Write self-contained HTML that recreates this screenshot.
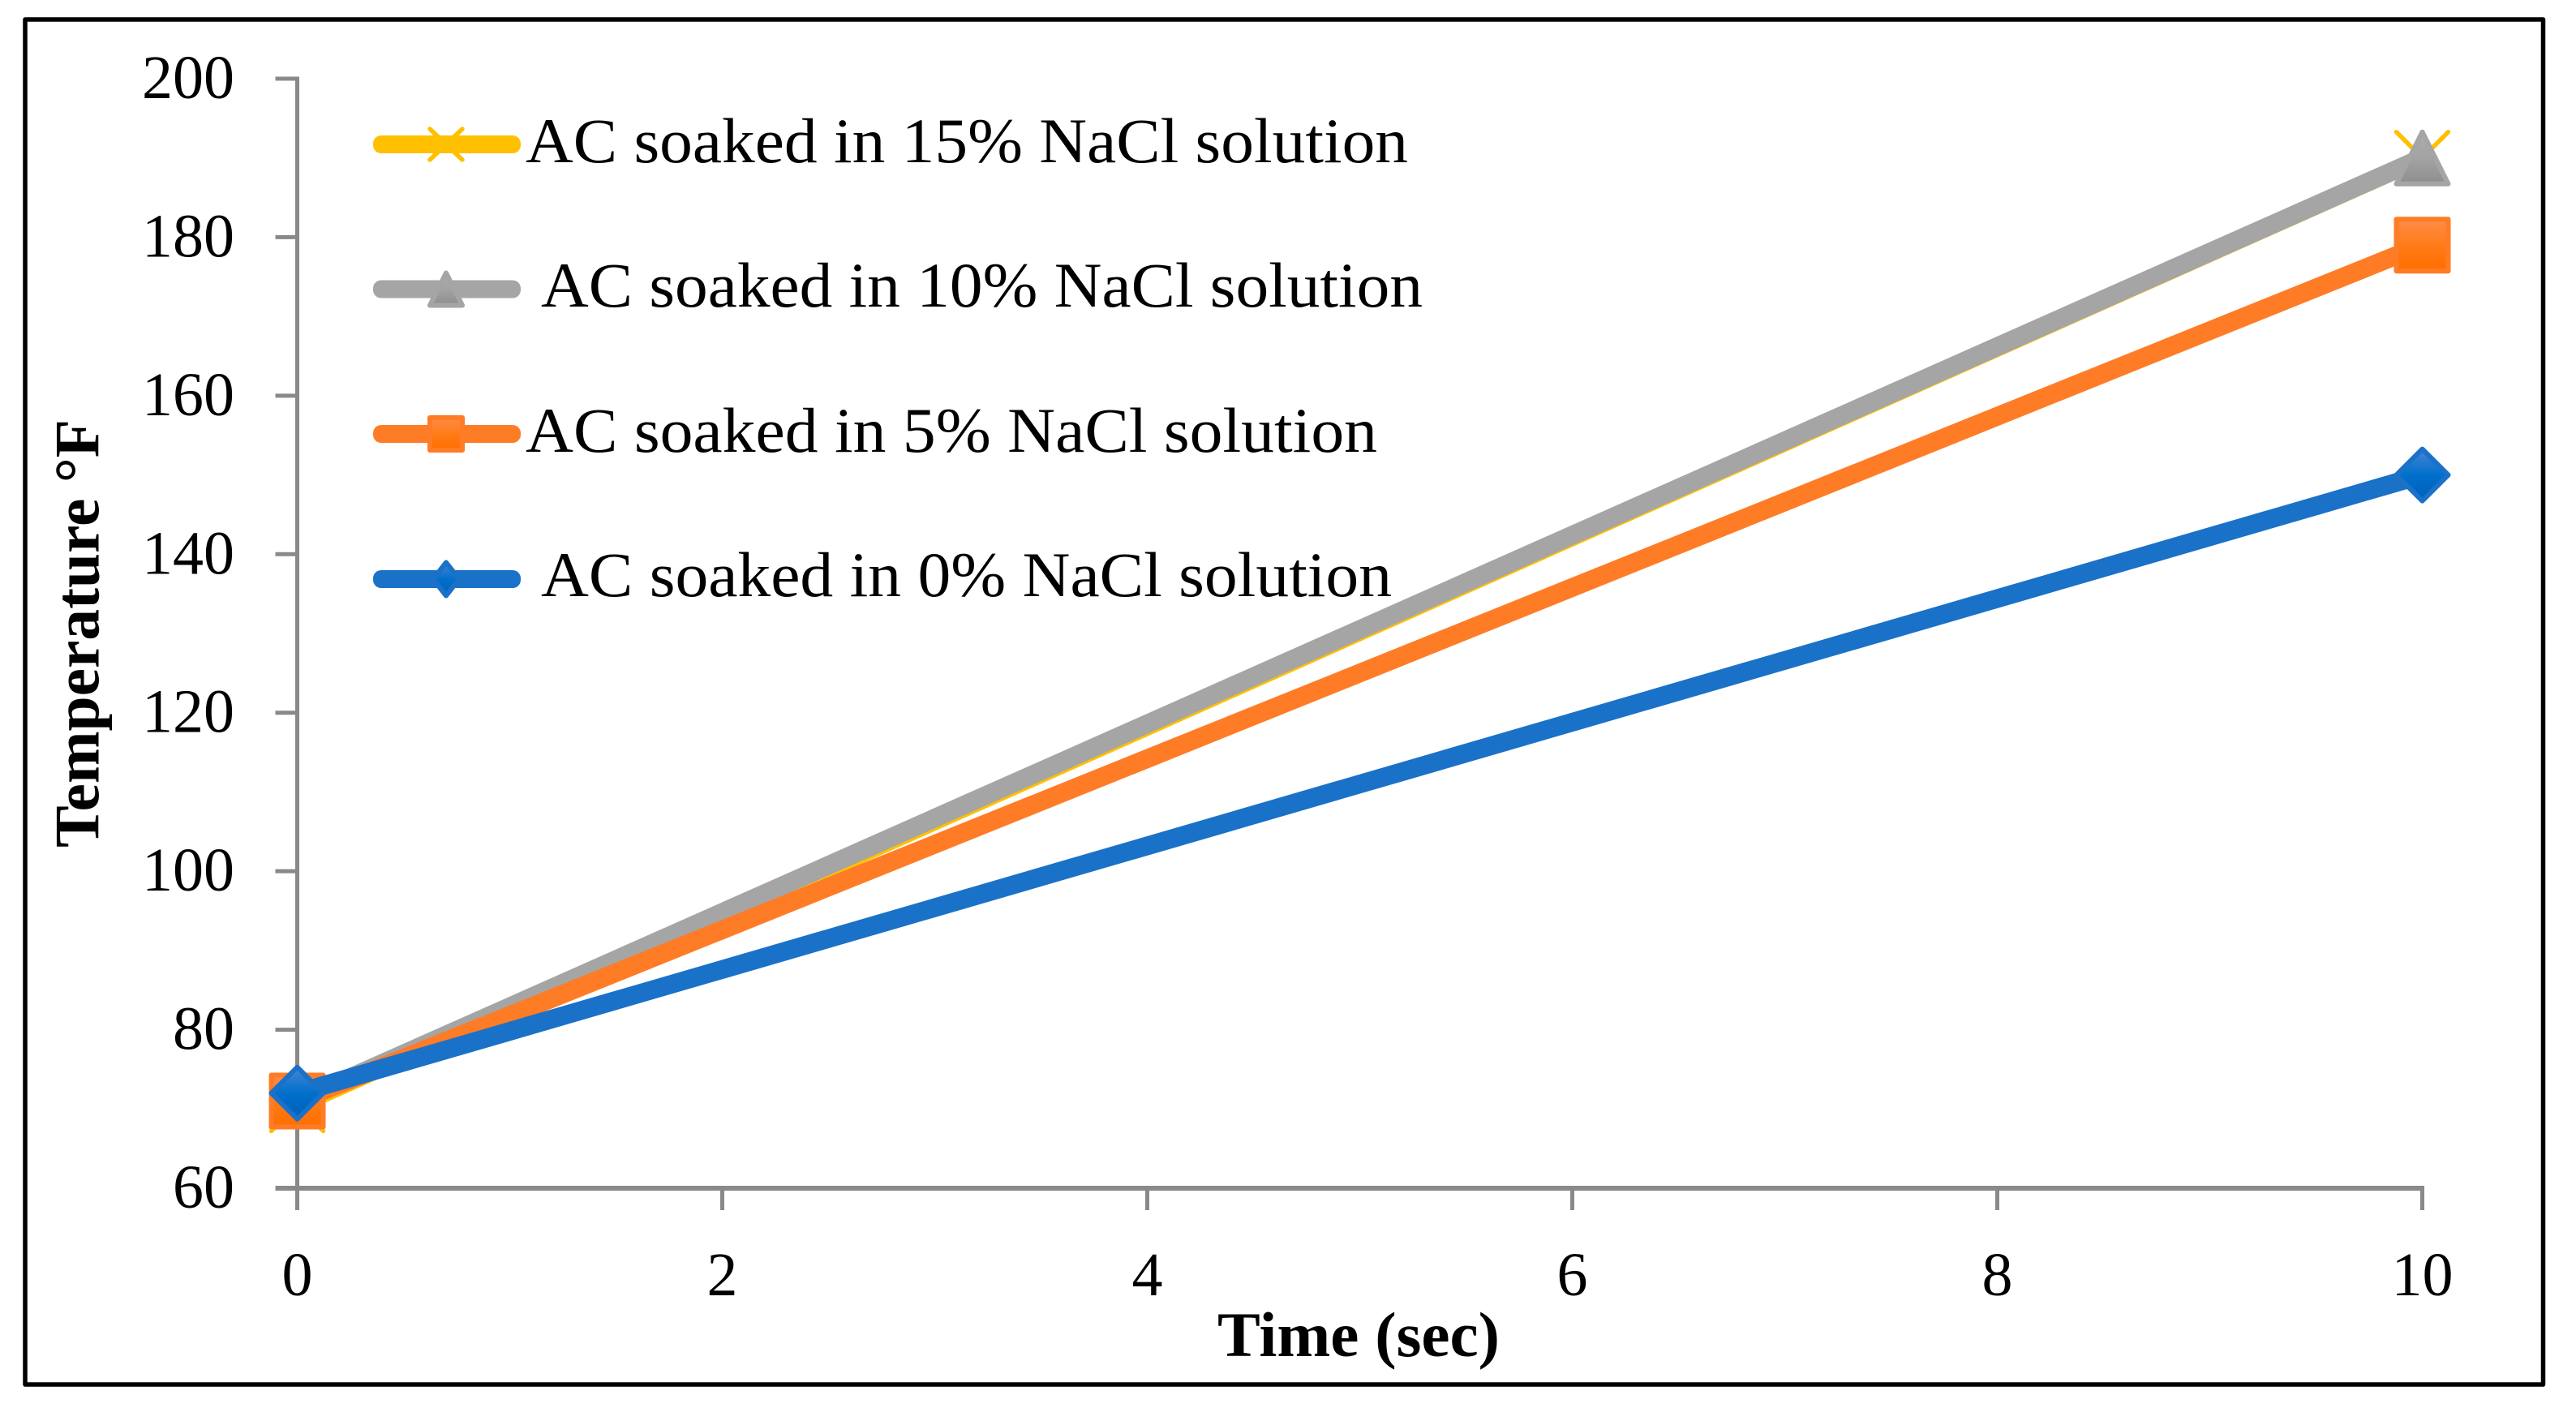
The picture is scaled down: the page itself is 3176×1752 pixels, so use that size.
<!DOCTYPE html>
<html lang="en">
<head>
<meta charset="utf-8">
<title>Temperature vs Time chart</title>
<style>
  html, body { margin: 0; padding: 0; background: #ffffff; }
  svg { display: block; }
  text { font-family: "Liberation Serif", "Times New Roman", serif; fill: #000000; }
</style>
</head>
<body>
<svg id="chart" xmlns="http://www.w3.org/2000/svg" width="3176" height="1752" viewBox="0 0 3176 1752">
  <defs>
    <linearGradient id="grad-gray" x1="0" y1="0" x2="0" y2="1">
      <stop offset="0" stop-color="#adadad"/><stop offset="0.5" stop-color="#a3a3a3"/><stop offset="1" stop-color="#8e8e8e"/>
    </linearGradient>
    <linearGradient id="grad-orange" x1="0" y1="0" x2="0" y2="1">
      <stop offset="0" stop-color="#ff8c48"/><stop offset="0.55" stop-color="#ff7a14"/><stop offset="1" stop-color="#ff6d00"/>
    </linearGradient>
    <linearGradient id="grad-blue" x1="0" y1="0" x2="0" y2="1">
      <stop offset="0" stop-color="#4a85d4"/><stop offset="0.5" stop-color="#0070cc"/><stop offset="1" stop-color="#005fb8"/>
    </linearGradient>
  </defs>

  <rect x="31" y="24" width="3104.5" height="1683" fill="#ffffff" stroke="#000000" stroke-width="5.5" stroke-linejoin="round"/>

  <g id="axes"></g>
  <g id="series"></g>

  <text x="1501" y="1672" font-size="78" font-weight="700" textLength="348" lengthAdjust="spacingAndGlyphs">Time (sec)</text>
  <text transform="translate(121.5 1045) rotate(-90)" font-size="78" font-weight="700" textLength="528" lengthAdjust="spacingAndGlyphs">Temperature °F</text>

  <g id="legend">
    <text x="648" y="200" font-size="78" textLength="1088" lengthAdjust="spacingAndGlyphs">AC soaked in 15% NaCl solution</text>
    <text x="667" y="378" font-size="78" textLength="1087" lengthAdjust="spacingAndGlyphs">AC soaked in 10% NaCl solution</text>
    <text x="648" y="557" font-size="78" textLength="1050" lengthAdjust="spacingAndGlyphs">AC soaked in 5% NaCl solution</text>
    <text x="667" y="735" font-size="78" textLength="1049" lengthAdjust="spacingAndGlyphs">AC soaked in 0% NaCl solution</text>
  </g>
</svg>

<script>
// Chart data
const timeValues = [0, 10];
const temp15 = [70.5, 190];
const temp10 = [71, 190];
const temp5 = [71, 179];
const temp0 = [72, 150];
const xTickValues = [0, 2, 4, 6, 8, 10];
const yTickValues = [60, 80, 100, 120, 140, 160, 180, 200];
const xTickLabels = ['0', '2', '4', '6', '8', '10'];
const yTickLabels = ['60', '80', '100', '120', '140', '160', '180', '200'];

const NS = 'http://www.w3.org/2000/svg';
const AXIS_COLOR = '#898989';

function xScale(v) { return 366.5 + (v - 0) * (2986.5 - 366.5) / (10 - 0); }
function yScale(v) { return 1465 - (v - 60) * (1465 - 97) / (200 - 60); }

function make(tag, attrs, parent) {
  const node = document.createElementNS(NS, tag);
  for (const k in attrs) node.setAttribute(k, attrs[k]);
  parent.appendChild(node);
  return node;
}

const axes = document.getElementById('axes');
const seriesLayer = document.getElementById('series');
const legend = document.getElementById('legend');

// Axes
const yAxisLine = make('line', { x1: xScale(0), y1: yScale(200) - 2.5, x2: xScale(0), y2: yScale(60) + 27, stroke: AXIS_COLOR, 'stroke-width': 5 }, axes);



const xAxisLine = make('line', { x1: xScale(0) - 27, y1: yScale(60), x2: xScale(10) + 2.5, y2: yScale(60), stroke: AXIS_COLOR, 'stroke-width': 6 }, axes);



yTickValues.forEach(function (v, i) {
  const tick = make('line', { x1: xScale(0) - 27, y1: yScale(v), x2: xScale(0), y2: yScale(v), stroke: AXIS_COLOR, 'stroke-width': 5 }, axes);
  
  
  const label = make('text', { x: 289, y: yScale(v) + 24, 'font-size': 76, 'text-anchor': 'end' }, axes);
  label.textContent = yTickLabels[i];
  
  
});

xTickValues.forEach(function (v, i) {
  const tick = make('line', { x1: xScale(v), y1: yScale(60), x2: xScale(v), y2: yScale(60) + 27, stroke: AXIS_COLOR, 'stroke-width': 5 }, axes);
  
  
  const label = make('text', { x: xScale(v), y: 1597, 'font-size': 76, 'text-anchor': 'middle' }, axes);
  label.textContent = xTickLabels[i];
  
  
});

// Marker drawing: centre (cx, cy), half width hw, half height hh
function drawMarker(kind, cx, cy, hw, hh, color, fill, parent) {
  const inset = 3;
  const w = hw - inset, h = hh - inset;
  if (kind === 'cross') {
    const g = make('g', { stroke: color, 'stroke-width': 5.5, 'stroke-linecap': 'round' }, parent);
    make('line', { x1: cx - w, y1: cy - h, x2: cx + w, y2: cy + h }, g);
    make('line', { x1: cx - w, y1: cy + h, x2: cx + w, y2: cy - h }, g);
    return g;
  }
  let pts;
  if (kind === 'triangle') pts = [[cx, cy - h], [cx + w, cy + h], [cx - w, cy + h]];
  if (kind === 'square') pts = [[cx - w, cy - h], [cx + w, cy - h], [cx + w, cy + h], [cx - w, cy + h]];
  if (kind === 'diamond') pts = [[cx, cy - h], [cx + w, cy], [cx, cy + h], [cx - w, cy]];
  return make('polygon', {
    points: pts.map(function (p) { return p.join(','); }).join(' '),
    fill: fill, stroke: color, 'stroke-width': 6, 'stroke-linejoin': 'round'
  }, parent);
}

// Series lines and markers
function drawSeries(values, color, fill, kind, name) {
  const g = make('g', {}, seriesLayer);
  
  
  const pts = timeValues.map(function (t, i) { return xScale(t) + ',' + yScale(values[i]); }).join(' ');
  const line = make('polyline', { points: pts, fill: 'none', stroke: color, 'stroke-width': 23, 'stroke-linejoin': 'round' }, g);
  
  
  timeValues.forEach(function (t, i) {
    const m = drawMarker(kind, xScale(t), yScale(values[i]), 35, 35, color, fill, g);
    
    
  });
}

drawSeries(temp15, '#ffc000', 'none', 'cross', '15-percent');
drawSeries(temp10, '#a5a5a5', 'url(#grad-gray)', 'triangle', '10-percent');
drawSeries(temp5, '#ff7c26', 'url(#grad-orange)', 'square', '5-percent');
drawSeries(temp0, '#1a71c8', 'url(#grad-blue)', 'diamond', '0-percent');

// Legend keys
function drawLegendKey(cy, color, fill, kind, hw, hh, name) {
  const g = make('g', {}, legend);
  
  
  make('rect', { x: 460, y: cy - 11, width: 182, height: 22, rx: 10, ry: 10, fill: color }, g);
  drawMarker(kind, 550, cy, hw, hh, color, fill, g);
}

drawLegendKey(178, '#ffc000', 'none', 'cross', 23, 22, '15-percent');
drawLegendKey(356.5, '#a5a5a5', 'url(#grad-gray)', 'triangle', 23, 23, '10-percent');
drawLegendKey(535, '#ff7c26', 'url(#grad-orange)', 'square', 23, 23, '5-percent');
drawLegendKey(714, '#1a71c8', 'url(#grad-blue)', 'diamond', 19, 23.5, '0-percent');
</script>
</body>
</html>
